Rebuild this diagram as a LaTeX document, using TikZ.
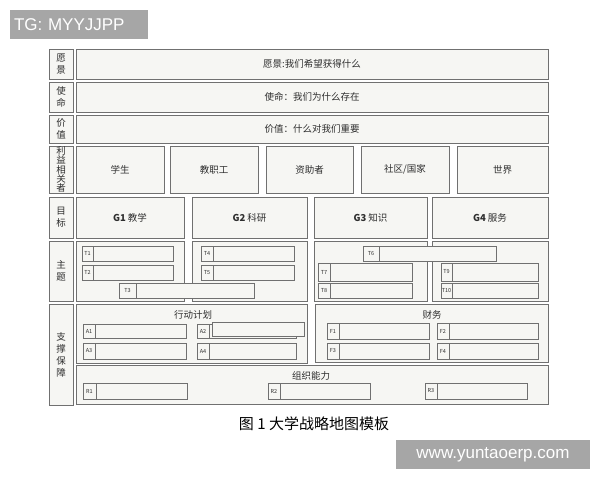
\documentclass[tikz,border=0pt]{standalone}
\usepackage{fontspec}
\setmainfont{Noto Sans CJK SC}
\newfontfamily\wmfont{Liberation Sans}
\definecolor{linegray}{HTML}{707070}
\definecolor{boxfill}{HTML}{F6F6F3}
\definecolor{wmgray}{HTML}{A6A6A6}
\definecolor{inkgray}{HTML}{2E2E2E}
\tikzset{
  frame/.style={draw=linegray, fill=boxfill, line width=0.8pt, inner sep=0pt, outer sep=0pt, rectangle, text=inkgray},
  txt/.style={font=\fontsize{9.5}{10}\selectfont},
  vlab/.style={font=\fontsize{9.5}{9.4}\selectfont, align=center},
  vlabw/.style={font=\fontsize{9.5}{12}\selectfont, align=center},
  tinylab/.style={font=\fontsize{5.5}{6}\selectfont},
  wmark/.style={fill=wmgray, draw=none, text=white, font=\wmfont\fontsize{17}{17}\selectfont},
}
% \bx[opts]{name}{x1}{y1}{x2}{y2}{text};
\newcommand\bx[6][]{\node[frame,minimum width={((#5)-(#3))*1pt},minimum height={((#6)-(#4))*1pt},#1] (#2) at ({((#3)+(#5))/2},{((#4)+(#6))/2})}
% \tg{name}{x1}{y1}{x2}{y2}{labelwidth}{label}
\newcommand\tg[7]{\bx{#1}{(#2)+(#6)}{#3}{#4}{#5}{};\bx[tinylab]{#1l}{#2}{#3}{(#2)+(#6)}{#5}{#7};}
\begin{document}
\begin{tikzpicture}[x=1pt,y=-1pt]
\useasboundingbox[fill=white] (0,0) rectangle (600,480);
% watermarks
\bx[wmark,text width=130pt,align=left,inner xsep=4pt]{wmtop}{10}{10}{148}{39}{TG: MYYJJPP};
\bx[wmark]{wmbot}{396}{440}{590}{469}{www.yuntaoerp.com};
% row labels
\bx[vlabw]{lvis}{49}{49}{73}{79}{愿\\景};
\bx[vlabw]{lmis}{49}{82}{73}{112}{使\\命};
\bx[vlabw]{lval}{49}{115}{73}{143}{价\\值};
\bx[vlab]{lsta}{49}{146}{73}{193}{利\\益\\相\\关\\者};
\bx[vlabw]{lgoal}{49}{197}{73}{238}{目\\标};
\bx[vlabw]{ltheme}{49}{241}{73}{301}{主\\题};
\bx[vlabw]{lsup}{49}{304}{73}{405}{支\\撑\\保\\障};
% top rows
\bx[txt]{vis}{76}{49}{548}{79}{愿景:我们希望获得什么};
\bx[txt]{mis}{76}{82}{548}{112}{使命：我们为什么存在};
\bx[txt]{val}{76}{115}{548}{143}{价值：什么对我们重要};
% stakeholders
\bx[txt]{s1}{76}{146}{164}{193}{学生};
\bx[txt]{s2}{170}{146}{258}{193}{教职工};
\bx[txt]{s3}{266}{146}{353}{193}{资助者};
\bx[txt]{s4}{361}{146}{449}{193}{社区/国家};
\bx[txt]{s5}{457}{146}{548}{193}{世界};
% goals
\bx[txt]{g1}{76}{197}{184}{238}{\textbf{G1} 教学};
\bx[txt]{g2}{192}{197}{307}{238}{\textbf{G2} 科研};
\bx[txt]{g3}{314}{197}{427}{238}{\textbf{G3} 知识};
\bx[txt]{g4}{432}{197}{548}{238}{\textbf{G4} 服务};
% theme groups
\bx{th1}{76}{241}{184}{301}{};
\bx{th2}{192}{241}{307}{301}{};
\bx{th3}{314}{241}{427}{301}{};
\bx{th4}{432}{241}{548}{301}{};
\tg{t1}{82}{246}{173}{261}{11}{T1}
\tg{t2}{82}{265}{173}{280}{11}{T2}
\tg{t4}{201}{246}{294}{261}{12}{T4}
\tg{t5}{201}{265}{294}{280}{12}{T5}
\tg{t3}{119}{283}{254}{298}{17}{T3}
\tg{t6}{363}{246}{496}{261}{16}{T6}
\tg{t7}{318}{263}{412}{281}{12}{T7}
\tg{t8}{318}{283}{412}{298}{12}{T8}
\tg{t9}{441}{263}{538}{281}{11}{T9}
\tg{t10}{441}{283}{538}{298}{11}{T10}
% support
\bx{plan}{76}{304}{307}{363}{};
\node[txt,text=inkgray] (plant) at (193,315) {行动计划};
\tg{a1}{83}{324}{186}{338}{12}{A1}
\tg{a2}{197}{324}{296}{338}{12}{A2}
\bx{a2x}{212}{322}{304}{336}{};
\tg{a3}{83}{343}{186}{359}{12}{A3}
\tg{a4}{197}{343}{296}{359}{12}{A4}
\bx{fin}{315}{304}{548}{362}{};
\node[txt,text=inkgray] (fint) at (432,315) {财务};
\tg{f1}{327}{323}{429}{339}{12}{F1}
\tg{f2}{437}{323}{538}{339}{12}{F2}
\tg{f3}{327}{343}{429}{359}{12}{F3}
\tg{f4}{437}{343}{538}{359}{12}{F4}
\bx{org}{76}{365}{548}{404}{};
\node[txt,text=inkgray] (orgt) at (311,376) {组织能力};
\tg{r1}{83}{383}{187}{399}{13}{R1}
\tg{r2}{268}{383}{370}{399}{12}{R2}
\tg{r3}{425}{383}{527}{399}{12}{R3}
% caption
\node[font=\fontsize{15}{16}\selectfont, text=black] (cap) at (314,424) {图 1 大学战略地图模板};
\end{tikzpicture}
\end{document}
